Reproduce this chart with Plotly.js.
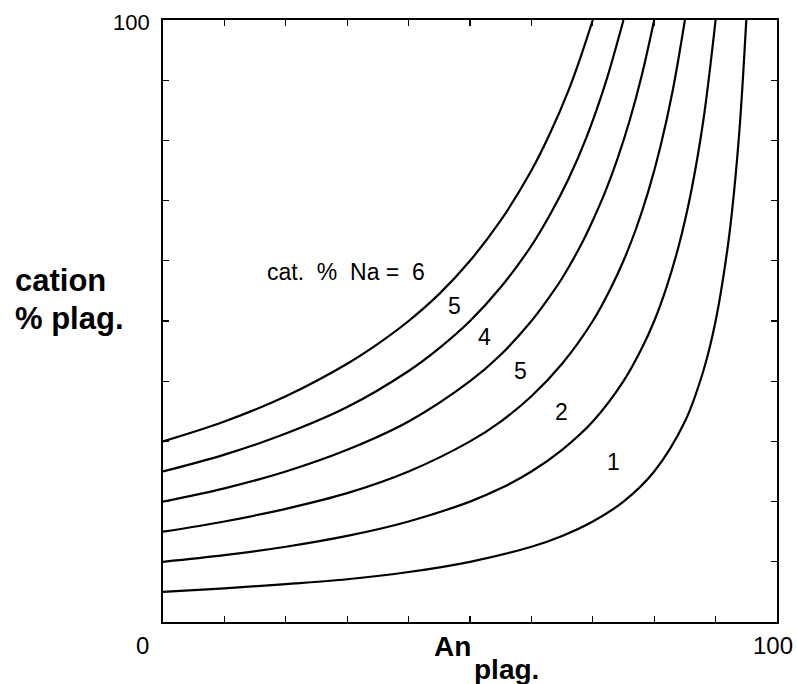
<!DOCTYPE html>
<html>
<head>
<meta charset="utf-8">
<script src="https://cdn.plot.ly/plotly-3.0.1.min.js"></script>
<style>html,body{margin:0;padding:0;background:#fff;}#chart{width:797px;height:684px;}</style>
</head>
<body>
<div id="chart"></div>
<script>
// An (plag.) values and cation % plag.
const curve1_x = [0, 10, 20, 30, 40, 50, 60, 65, 70, 75, 80, 85, 88, 90, 92, 93, 94, 95];
const curve1_y = [5, 5.6, 6.3, 7.1, 8.3, 10, 12.5, 14.3, 16.7, 20, 25, 33.3, 41.7, 50, 62.5, 71.4, 83.3, 100];

const curve2_x = [0, 10, 20, 30, 40, 50, 55, 60, 65, 70, 75, 78, 80, 82, 84, 86, 88, 90];
const curve2_y = [10, 11.1, 12.5, 14.3, 16.7, 20, 22.2, 25, 28.6, 33.3, 40, 45.5, 50, 55.6, 62.5, 71.4, 83.3, 100];

const curve3_x = [0, 10, 20, 30, 40, 50, 55, 60, 65, 70, 73, 75, 77, 79, 81, 83, 85];
const curve3_y = [15, 16.7, 18.8, 21.4, 25, 30, 33.3, 37.5, 42.9, 50, 55.6, 60, 65.2, 71.4, 78.9, 88.2, 100];

const curve4_x = [0, 10, 20, 30, 40, 50, 55, 60, 63, 65, 68, 70, 72, 74, 76, 78, 80];
const curve4_y = [20, 22.2, 25, 28.6, 33.3, 40, 44.4, 50, 54.1, 57.1, 62.5, 66.7, 71.4, 76.9, 83.3, 90.9, 100];

const curve5_x = [0, 10, 20, 30, 40, 45, 50, 55, 60, 63, 66, 69, 72, 75];
const curve5_y = [25, 27.8, 31.3, 35.7, 41.7, 45.5, 50, 55.6, 62.5, 67.6, 73.5, 80.6, 89.3, 100];

const curve6_x = [0, 10, 20, 30, 35, 40, 45, 50, 55, 60, 63, 66, 68, 70];
const curve6_y = [30, 33.3, 37.5, 42.9, 46.2, 50, 54.5, 60, 66.7, 75, 81.1, 88.2, 93.8, 100];

const curveLabels = ["1", "2", "5", "4", "5", "cat.  %  Na =  6"];
const tickLabelsX = ["0", "100"];
const tickLabelY = "100";
const xTitle = ["An", "plag."];
const yTitle = ["cation", "% plag."];

const xs = [curve1_x, curve2_x, curve3_x, curve4_x, curve5_x, curve6_x];
const ys = [curve1_y, curve2_y, curve3_y, curve4_y, curve5_y, curve6_y];

const traces = xs.map((x, i) => ({
  x: x, y: ys[i], type: 'scatter', mode: 'lines',
  line: {color: '#000', width: 2.2, shape: 'spline', smoothing: 1},
  hoverinfo: 'skip', showlegend: false
}));

// plot area in px: left 163, right 777, top 20, bottom 622
const L = 163, R = 777, T = 20, B = 622;
const px = v => (v - L) / (R - L);
const py = v => (B - v) / (B - T);

const font = 'Liberation Sans, Arial, sans-serif';
const ann = (text, x, y, size, bold, xanchor) => ({
  text: bold ? '<b>' + text + '</b>' : text,
  xref: 'paper', yref: 'paper', x: px(x), y: py(y),
  xanchor: xanchor || 'center', yanchor: 'middle', showarrow: false,
  font: {family: font, size: size, color: '#000'}
});

const labelPos = [[613, 462], [561, 412], [520, 371], [484, 337], [454, 306], [346, 272]];
const annotations = curveLabels.map((t, i) => ann(t, labelPos[i][0], labelPos[i][1], 23, false));
annotations.push(ann(tickLabelsX[0], 142, 645, 24, false));
annotations.push(ann(tickLabelsX[1], 773, 645, 24, false));
annotations.push(ann(tickLabelY, 131, 22, 22, false));
annotations.push(ann(xTitle[0], 432, 646, 28, true, 'left'));
annotations.push(ann(xTitle[1], 472, 669, 28, true, 'left'));
annotations.push(ann(yTitle[0], 13, 280, 31, true, 'left'));
annotations.push(ann(yTitle[1], 13, 318, 31, true, 'left'));

const axis = {
  range: [0, 100], dtick: 10, tick0: 0, ticks: 'inside', ticklen: 6, tickwidth: 1.3,
  tickcolor: '#000', showline: true, linecolor: '#000', linewidth: 1.6, mirror: 'allticks',
  showgrid: false, zeroline: false, showticklabels: false, fixedrange: true
};

const layout = {
  width: 797, height: 684,
  margin: {l: L, r: 797 - R, t: T, b: 684 - B},
  paper_bgcolor: '#fff', plot_bgcolor: '#fff',
  xaxis: Object.assign({}, axis),
  yaxis: Object.assign({}, axis),
  annotations: annotations,
  showlegend: false
};

Plotly.newPlot('chart', traces, layout, {displayModeBar: false, staticPlot: true});
</script>
</body>
</html>
